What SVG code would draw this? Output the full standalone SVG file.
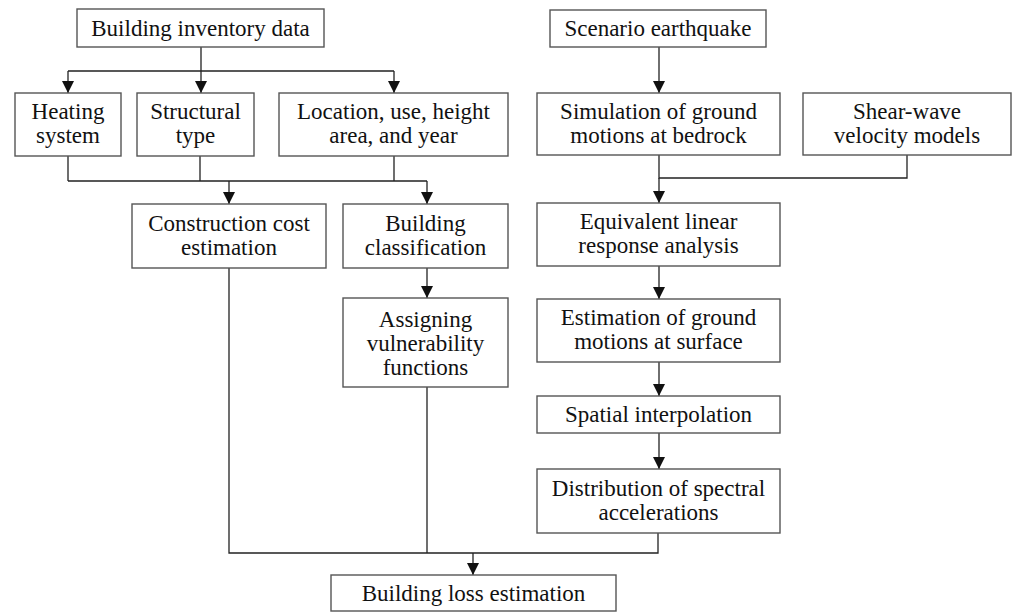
<svg xmlns="http://www.w3.org/2000/svg" width="1014" height="612" viewBox="0 0 1014 612">
<defs>
<style>
.box{fill:#fff;stroke:#555;stroke-width:1.4}
.t{font-family:"Liberation Serif","DejaVu Serif",serif;font-size:23px;fill:#111;text-anchor:middle}
.c{fill:none;stroke:#222;stroke-width:1.3}
</style>
<marker id="ad" markerUnits="userSpaceOnUse" markerWidth="12" markerHeight="12" refX="12" refY="6" orient="auto" viewBox="0 0 12 12">
<path d="M0,0 L12,6 L0,12 Z" fill="#111"/>
</marker>
</defs>
<rect width="1014" height="612" fill="#fff"/>
<g id="connectors">
<path class="c" d="M201,47 V71 M68,71 H394"/>
<path class="c" d="M68,71 V93" marker-end="url(#ad)"/>
<path class="c" d="M201,71 V93" marker-end="url(#ad)"/>
<path class="c" d="M394,71 V93" marker-end="url(#ad)"/>
<path class="c" d="M68,156 V181 M200,156 V181 M394,156 V181 M68,181 H427"/>
<path class="c" d="M229,181 V204" marker-end="url(#ad)"/>
<path class="c" d="M427,181 V204" marker-end="url(#ad)"/>
<path class="c" d="M427,268 V298" marker-end="url(#ad)"/>
<path class="c" d="M229,268 V553 H427 M427,387 V553 M427,553 H658 V533"/>
<path class="c" d="M473,553 V575" marker-end="url(#ad)"/>
<path class="c" d="M659,47 V93" marker-end="url(#ad)"/>
<path class="c" d="M659,155 V178 H907 V155"/>
<path class="c" d="M659,178 V203" marker-end="url(#ad)"/>
<path class="c" d="M659,266 V299" marker-end="url(#ad)"/>
<path class="c" d="M659,362 V396" marker-end="url(#ad)"/>
<path class="c" d="M659,433 V469" marker-end="url(#ad)"/>
</g>
<g id="inventory"><rect class="box" x="77" y="9" width="247" height="38"/><text class="t" x="200.5" y="36">Building inventory data</text></g>
<g id="heating"><rect class="box" x="15" y="93" width="106" height="63"/><text class="t" x="68" y="119">Heating</text><text class="t" x="68" y="143">system</text></g>
<g id="structural"><rect class="box" x="137" y="93" width="117" height="63"/><text class="t" x="195.5" y="119">Structural</text><text class="t" x="195.5" y="143">type</text></g>
<g id="location"><rect class="box" x="279" y="93" width="229" height="63"/><text class="t" x="393.5" y="119">Location, use, height</text><text class="t" x="393.5" y="143">area, and year</text></g>
<g id="cost"><rect class="box" x="132" y="204" width="194" height="64"/><text class="t" x="229" y="231">Construction cost</text><text class="t" x="229" y="255">estimation</text></g>
<g id="classification"><rect class="box" x="343" y="204" width="165" height="64"/><text class="t" x="425.5" y="231">Building</text><text class="t" x="425.5" y="255">classification</text></g>
<g id="assigning"><rect class="box" x="343" y="298" width="165" height="89"/><text class="t" x="425.5" y="327">Assigning</text><text class="t" x="425.5" y="351">vulnerability</text><text class="t" x="425.5" y="375">functions</text></g>
<g id="scenario"><rect class="box" x="550" y="10" width="216" height="37"/><text class="t" x="658" y="36">Scenario earthquake</text></g>
<g id="simulation"><rect class="box" x="537" y="93" width="243" height="62"/><text class="t" x="658.5" y="119">Simulation of ground</text><text class="t" x="658.5" y="143">motions at bedrock</text></g>
<g id="shearwave"><rect class="box" x="803" y="93" width="208" height="62"/><text class="t" x="907" y="119">Shear-wave</text><text class="t" x="907" y="143">velocity models</text></g>
<g id="equivalent"><rect class="box" x="537" y="203" width="243" height="63"/><text class="t" x="658.5" y="229">Equivalent linear</text><text class="t" x="658.5" y="253">response analysis</text></g>
<g id="estimation"><rect class="box" x="537" y="299" width="243" height="63"/><text class="t" x="658.5" y="325">Estimation of ground</text><text class="t" x="658.5" y="349">motions at surface</text></g>
<g id="spatial"><rect class="box" x="537" y="396" width="243" height="37"/><text class="t" x="658.5" y="422">Spatial interpolation</text></g>
<g id="distribution"><rect class="box" x="537" y="469" width="243" height="64"/><text class="t" x="658.5" y="496">Distribution of spectral</text><text class="t" x="658.5" y="520">accelerations</text></g>
<g id="loss"><rect class="box" x="331" y="575" width="285" height="36"/><text class="t" x="473.5" y="601">Building loss estimation</text></g>
</svg>
